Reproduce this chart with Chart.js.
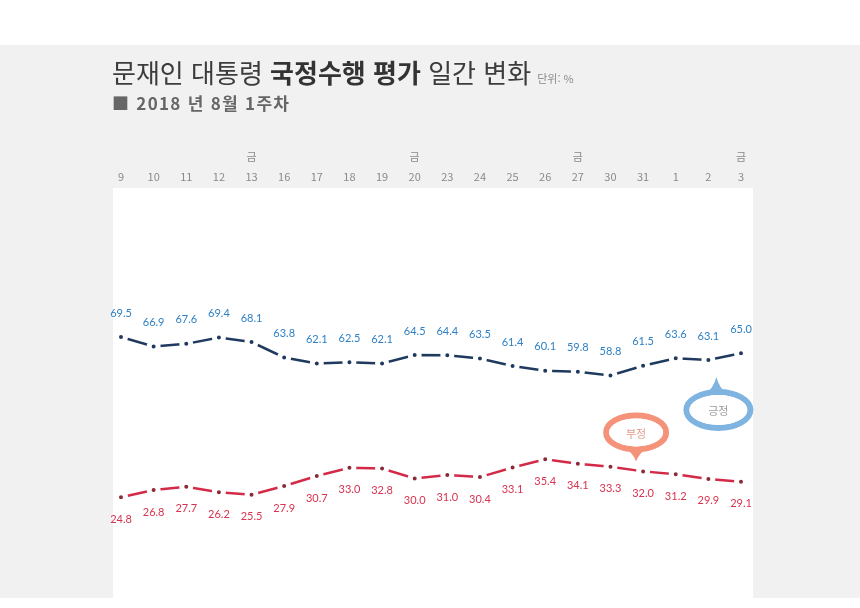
<!DOCTYPE html>
<html lang="ko">
<head>
<meta charset="utf-8">
<script src="https://cdn.jsdelivr.net/npm/chart.js@4.4.1/dist/chart.umd.min.js"></script>
<style>
  html, body { margin: 0; padding: 0; background: #fff; }
  #wrap { position: relative; width: 860px; height: 608px; overflow: hidden; }
  #c { position: absolute; left: 0; top: 0; }
  .title { position: absolute; left: 112px; top: 57px; font-family: "Noto Sans CJK KR", sans-serif; font-size: 26px; line-height: 30px; color: #3c3c3c; white-space: nowrap; }
  .title b { font-weight: 700; color: #333; }
  .title small { font-size: 11px; color: #8a8a8a; margin-left: 6px; }
  .sub { position: absolute; left: 112px; top: 92px; font-family: "Noto Sans CJK KR", sans-serif; font-size: 17px; line-height: 22px; color: #666; font-weight: 700; white-space: nowrap; letter-spacing: 1.3px; }
</style>
</head>
<body>
<div id="wrap">
  <canvas id="c" width="860" height="608"></canvas>
  <div class="title">문재인 대통령 <b>국정수행 평가</b> 일간 변화<small>단위: %</small></div>
  <div class="sub">■ 2018 년 8월 1주차</div>
</div>
<script>
// ---- data ----
const days = ['9','10','11','12','13','16','17','18','19','20','23','24','25','26','27','30','31','1','2','3'];
const weekday = ['','','','','금','','','','','금','','','','','금','','','','','금'];
const positive = [69.5,66.9,67.6,69.4,68.1,63.8,62.1,62.5,62.1,64.5,64.4,63.5,61.4,60.1,59.8,58.8,61.5,63.6,63.1,65.0];
const negative = [24.8,26.8,27.7,26.2,25.5,27.9,30.7,33.0,32.8,30.0,31.0,30.4,33.1,35.4,34.1,33.3,32.0,31.2,29.9,29.1];
const seriesNames = ['긍정','부정'];

const labels = days.map((d, i) => [weekday[i], d]);

const bgPlugin = {
  id: 'bg',
  beforeDraw(chart) {
    const ctx = chart.ctx;
    ctx.save();
    ctx.fillStyle = '#ffffff';
    ctx.fillRect(0, 0, 860, 608);
    ctx.fillStyle = '#f1f1f1';
    ctx.fillRect(0, 45, 860, 553);
    ctx.fillStyle = '#ffffff';
    ctx.fillRect(113, 188, 640, 410);
    ctx.restore();
  }
};

const valueLabels = {
  id: 'valueLabels',
  afterDatasetsDraw(chart) {
    const ctx = chart.ctx;
    ctx.save();
    ctx.font = '11px Lato, "DejaVu Sans", sans-serif';
    ctx.textAlign = 'center';
    ctx.textBaseline = 'middle';
    chart.data.datasets.forEach((ds, di) => {
      const meta = chart.getDatasetMeta(di);
      meta.data.forEach((pt, i) => {
        const v = ds.data[i];
        if (di === 0) {
          ctx.fillStyle = '#2f80c4';
          ctx.fillText(v.toFixed(1), pt.x, pt.y - 24);
        } else {
          ctx.fillStyle = '#d8334f';
          ctx.fillText(v.toFixed(1), pt.x, pt.y + 22);
        }
      });
    });
    ctx.restore();
  }
};

function bubble(ctx, cx, cy, rx, ry, tipX, tipY, stroke, text, textColor) {
  ctx.save();
  const up = tipY < cy;
  ctx.beginPath();
  ctx.ellipse(cx, cy, rx, ry, 0, 0, Math.PI * 2);
  ctx.lineWidth = 6;
  ctx.strokeStyle = stroke;
  ctx.fillStyle = '#fff';
  ctx.fill();
  ctx.stroke();
  // tail
  const baseY = up ? cy - ry + 1 : cy + ry - 1;
  ctx.beginPath();
  ctx.moveTo(tipX - 10, baseY);
  ctx.quadraticCurveTo(tipX - 3, baseY + (up ? -5 : 5), tipX, tipY);
  ctx.quadraticCurveTo(tipX + 3, baseY + (up ? -5 : 5), tipX + 10, baseY);
  ctx.closePath();
  ctx.fillStyle = stroke;
  ctx.fill();
  ctx.beginPath();
  ctx.ellipse(cx, cy, rx - 3, ry - 3, 0, 0, Math.PI * 2);
  ctx.fillStyle = '#fff';
  ctx.fill();
  ctx.font = '11px "Noto Sans CJK KR", sans-serif';
  ctx.textAlign = 'center';
  ctx.textBaseline = 'middle';
  ctx.fillStyle = textColor;
  ctx.fillText(text, cx, cy + 1);
  ctx.restore();
}

const bubbles = {
  id: 'bubbles',
  afterDraw(chart) {
    const ctx = chart.ctx;
    const x = chart.scales.x, y = chart.scales.y;
    const bx = x.getPixelForValue(18) + 8;
    const by = y.getPixelForValue(positive[18]);
    bubble(ctx, bx + 2, by + 50, 32, 18, bx, by + 17, '#80b4e0', seriesNames[0], '#9a9a9a');
    const rx = x.getPixelForValue(16) - 7;
    const ry = y.getPixelForValue(negative[16]);
    bubble(ctx, rx, ry - 39, 30, 17, rx, ry - 10, '#f49379', seriesNames[1], '#e69a88');
  }
};

new Chart(document.getElementById('c'), {
  type: 'line',
  data: {
    labels: labels,
    datasets: [
      {
        label: seriesNames[0],
        data: positive,
        borderColor: '#1f3a5e',
        borderWidth: 2.5,
        tension: 0,
        pointRadius: 4.5,
        pointBackgroundColor: '#1f3a5e',
        pointBorderColor: '#ffffff',
        pointBorderWidth: 5,
        fill: false
      },
      {
        label: seriesNames[1],
        data: negative,
        borderColor: '#d42a47',
        borderWidth: 2.5,
        tension: 0,
        pointRadius: 4.5,
        pointBackgroundColor: '#8c2a36',
        pointBorderColor: '#ffffff',
        pointBorderWidth: 5,
        fill: false
      }
    ]
  },
  options: {
    responsive: false,
    animation: false,
    devicePixelRatio: 1,
    layout: { padding: { left: 121, right: 119, top: 152, bottom: 22 } },
    plugins: { legend: { display: false }, tooltip: { enabled: false }, title: { display: false } },
    scales: {
      x: {
        position: 'top',
        offset: false,
        grid: { display: false, drawTicks: false },
        border: { display: false },
        ticks: {
          color: '#8a8a8a',
          font: { size: 11, family: '"Noto Sans CJK KR", sans-serif', lineHeight: 1.8 },
          padding: 5,
          maxRotation: 0,
          autoSkip: false
        },
        afterFit(scale) { scale.height = 40; }
      },
      y: {
        display: false,
        min: 0,
        max: 110
      }
    }
  },
  plugins: [bgPlugin, valueLabels, bubbles]
});
</script>
</body>
</html>
